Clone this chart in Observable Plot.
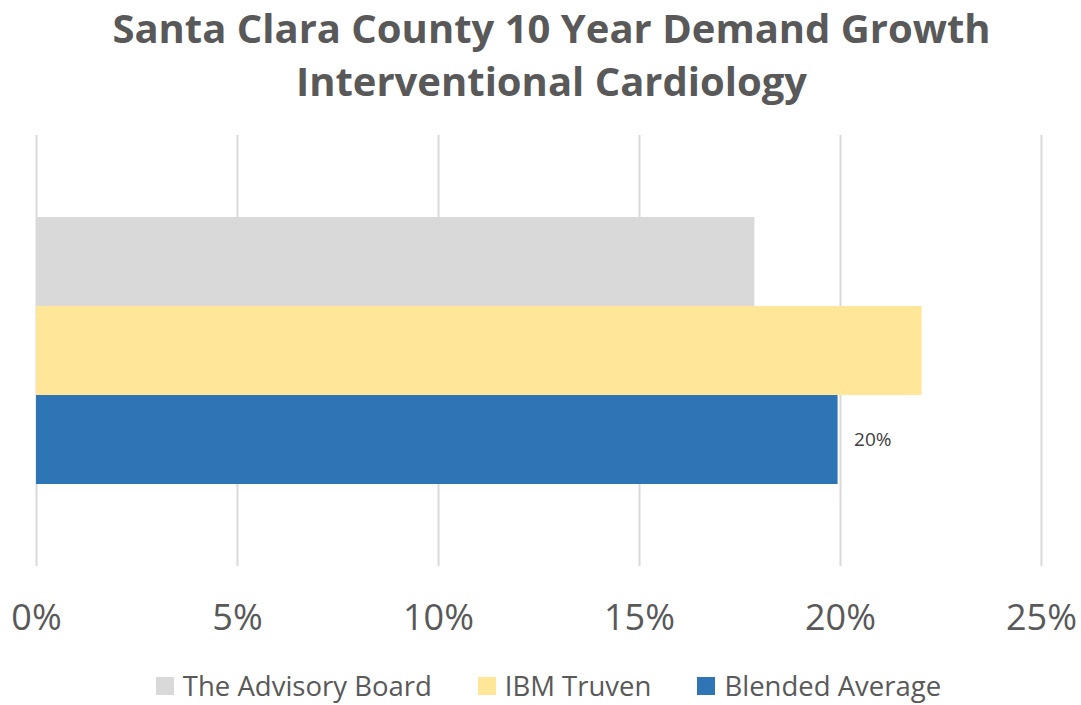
<!DOCTYPE html>
<html>
<head>
<meta charset="utf-8">
<script src="https://cdn.jsdelivr.net/npm/d3@7"></script>
<script src="https://cdn.jsdelivr.net/npm/@observablehq/plot@0.6"></script>
<style>
  html, body { margin: 0; padding: 0; background: #fff; }
  body { width: 1081px; height: 705px; overflow: hidden; font-family: "Open Sans", sans-serif; }
  #title { height: 125px; text-align: center; color: #595959; font-weight: bold; font-size: 40px; padding-left: 22px; padding-top: 5px; box-sizing: border-box; }
  #t1 { line-height: 46px; }
  #t2 { line-height: 60px; }
  #legend { display: flex; justify-content: center; align-items: center; gap: 46px; color: #595959; font-size: 27.5px; height: 50px; padding-top: 12px; box-sizing: border-box; margin-left: 16px; }
  .item { display: flex; align-items: center; gap: 9px; line-height: 30px; }
  .sw { width: 18px; height: 18px; display: inline-block; }
</style>
</head>
<body>
<div id="title"><div id="t1">Santa Clara County 10 Year Demand Growth</div><div id="t2">Interventional Cardiology</div></div>
<div id="chart"></div>
<div id="legend"></div>
<script>
const series = ["The Advisory Board", "IBM Truven", "Blended Average"];
const values = [17.87, 22.03, 19.94];
const colors = ["#d9d9d9", "#ffe699", "#2e75b6"];
const labelled = [false, false, true];
const xTicks = [0, 5, 10, 15, 20, 25];

const data = series.map((s, i) => ({series: s, value: values[i], color: colors[i], label: labelled[i]}));

const chart = Plot.plot({
  width: 1081,
  height: 530,
  marginTop: 10,
  marginBottom: 89,
  marginLeft: 36,
  marginRight: 40,
  style: {fontFamily: "Open Sans, sans-serif", color: "#595959", background: "#fff"},
  x: {domain: [0, 25], ticks: xTicks, label: null},
  y: {domain: series, paddingInner: 0, paddingOuter: 0.9, axis: null},
  marks: [
    Plot.gridX(xTicks, {stroke: "#d9d9d9", strokeWidth: 2, strokeOpacity: 1}),
    Plot.barX(data, {x: "value", y: "series", fill: "color"}),
    Plot.text(data.filter(d => d.label), {x: "value", y: "series", text: d => Math.round(d.value) + "%", dx: 16, textAnchor: "start", fontSize: 19, fill: "#404040"}),
    Plot.axisX(xTicks, {tickSize: 0, tickPadding: 38, tickFormat: d => d + "%", fontSize: 36, fill: "#595959", label: null})
  ]
});
document.getElementById("chart").appendChild(chart);

const legend = document.getElementById("legend");
series.forEach((s, i) => {
  const it = document.createElement("div");
  it.className = "item";
  const sw = document.createElement("span");
  sw.className = "sw";
  sw.style.background = colors[i];
  const t = document.createElement("span");
  t.textContent = s;
  it.appendChild(sw); it.appendChild(t);
  legend.appendChild(it);
});
</script>
</body>
</html>
